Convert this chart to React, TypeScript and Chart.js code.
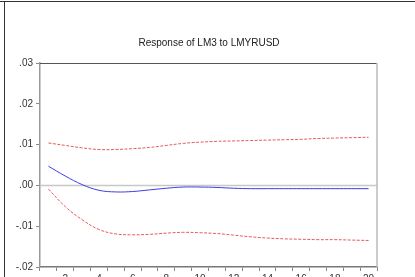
import React, { useEffect, useRef } from 'react';
import { Chart, registerables } from 'chart.js';

Chart.register(...registerables);

const periods = ['1', '2', '3', '4', '5', '6', '7', '8', '9', '10', '11', '12', '13', '14', '15', '16', '17', '18', '19', '20'];
const response = [0.0047, 0.0023, 0.0002, -0.0012, -0.0016, -0.0015, -0.0011, -0.0007, -0.0004, -0.0004, -0.0005, -0.0007, -0.0008, -0.0008, -0.0008, -0.0008, -0.0008, -0.0008, -0.0008, -0.0008];
const upperBand = [0.0104, 0.0098, 0.0092, 0.0088, 0.0088, 0.0090, 0.0093, 0.0098, 0.0103, 0.0106, 0.0108, 0.0109, 0.0110, 0.0111, 0.0112, 0.0113, 0.0115, 0.0116, 0.0117, 0.0118];
const lowerBand = [-0.0009, -0.0052, -0.0084, -0.0108, -0.0119, -0.0121, -0.0120, -0.0117, -0.0115, -0.0116, -0.0118, -0.0122, -0.0126, -0.0129, -0.0131, -0.0132, -0.0133, -0.0133, -0.0134, -0.0135];
const yMin = -0.02;
const yMax = 0.03;
const yStep = 0.01;
const chartTitle = 'Response of LM3 to LMYRUSD';

const fmt = (v: number) => {
  const n = Math.round(v * 100);
  const s = (Math.abs(n) / 100).toFixed(2).replace(/^0/, '');
  return (n < 0 ? '-' : '') + s;
};

const decor = {
  id: 'decor',
  beforeDatasetsDraw(chart: any) {
    const { ctx, chartArea, scales } = chart;
    const y0 = scales.y.getPixelForValue(0);
    ctx.save();
    ctx.strokeStyle = '#c8c8c8';
    ctx.lineWidth = 1.5;
    ctx.beginPath();
    ctx.moveTo(chartArea.left, y0);
    ctx.lineTo(chartArea.right, y0);
    ctx.stroke();
    ctx.restore();
  },
  afterDraw(chart: any) {
    const { ctx, chartArea, width, height } = chart;
    ctx.save();
    ctx.strokeStyle = '#333';
    ctx.lineWidth = 1;
    ctx.beginPath();
    ctx.moveTo(0, 1.5);
    ctx.lineTo(width, 1.5);
    ctx.moveTo(4.5, 1.5);
    ctx.lineTo(4.5, height);
    ctx.stroke();
    ctx.strokeStyle = '#555';
    ctx.beginPath();
    ctx.moveTo(chartArea.left, chartArea.top + 0.5);
    ctx.lineTo(chartArea.right, chartArea.top + 0.5);
    ctx.stroke();
    ctx.strokeStyle = '#bbb';
    ctx.lineWidth = 1.5;
    ctx.beginPath();
    ctx.moveTo(chartArea.right, chartArea.top);
    ctx.lineTo(chartArea.right, chartArea.bottom);
    ctx.stroke();
    ctx.fillStyle = '#222';
    ctx.font = '10px "Liberation Sans", Arial, sans-serif';
    ctx.textAlign = 'center';
    ctx.textBaseline = 'middle';
    ctx.fillText(chartTitle, 209, 43);
    ctx.restore();
  },
};

export default function App() {
  const ref = useRef<HTMLCanvasElement>(null);
  useEffect(() => {
    if (!ref.current) return;
    const chart = new Chart(ref.current, {
      type: 'line',
      data: {
        labels: periods,
        datasets: [
          {
            data: upperBand,
            borderColor: 'rgb(230,90,90)',
            borderWidth: 1,
            borderDash: [3, 1.5],
            pointRadius: 0,
            tension: 0.4,
            fill: false,
          },
          {
            data: response,
            borderColor: 'rgb(60,60,225)',
            borderWidth: 1,
            pointRadius: 0,
            tension: 0.4,
            fill: false,
          },
          {
            data: lowerBand,
            borderColor: 'rgb(230,90,90)',
            borderWidth: 1,
            borderDash: [3, 1.5],
            pointRadius: 0,
            tension: 0.4,
            fill: false,
          },
        ],
      },
      options: {
        responsive: false,
        animation: false,
        layout: { padding: { left: 0, top: 63, right: 38, bottom: 0 } },
        plugins: { legend: { display: false }, tooltip: { enabled: false }, title: { display: false } },
        scales: {
          x: {
            type: 'category',
            offset: true,
            grid: { offset: true, drawOnChartArea: false, drawTicks: true, tickLength: 4, tickColor: '#888' },
            border: { color: '#777', width: 1.5 },
            ticks: {
              autoSkip: false,
              maxRotation: 0,
              padding: 2,
              color: '#333',
              font: { family: '"Liberation Sans", Arial, sans-serif', size: 10 },
              callback: (_v: any, i: number) => ((i + 1) % 2 === 0 ? periods[i] : ''),
            },
            afterFit: (s: any) => { s.height = 10; },
          },
          y: {
            min: yMin,
            max: yMax,
            grid: { drawOnChartArea: false, drawTicks: true, tickLength: 4, tickColor: '#888' },
            border: { color: '#999', width: 1.5 },
            ticks: {
              stepSize: yStep,
              padding: 3,
              color: '#333',
              font: { family: '"Liberation Sans", Arial, sans-serif', size: 10 },
              callback: (v: any) => fmt(Number(v)),
            },
            afterFit: (s: any) => { s.width = 40; },
          },
        },
      },
      plugins: [decor],
    });
    return () => chart.destroy();
  }, []);
  return (
    <div style={{ position: 'absolute', left: 0, top: 0, width: 415, height: 277, background: '#fff' }}>
      <canvas ref={ref} width={415} height={277} />
    </div>
  );
}
